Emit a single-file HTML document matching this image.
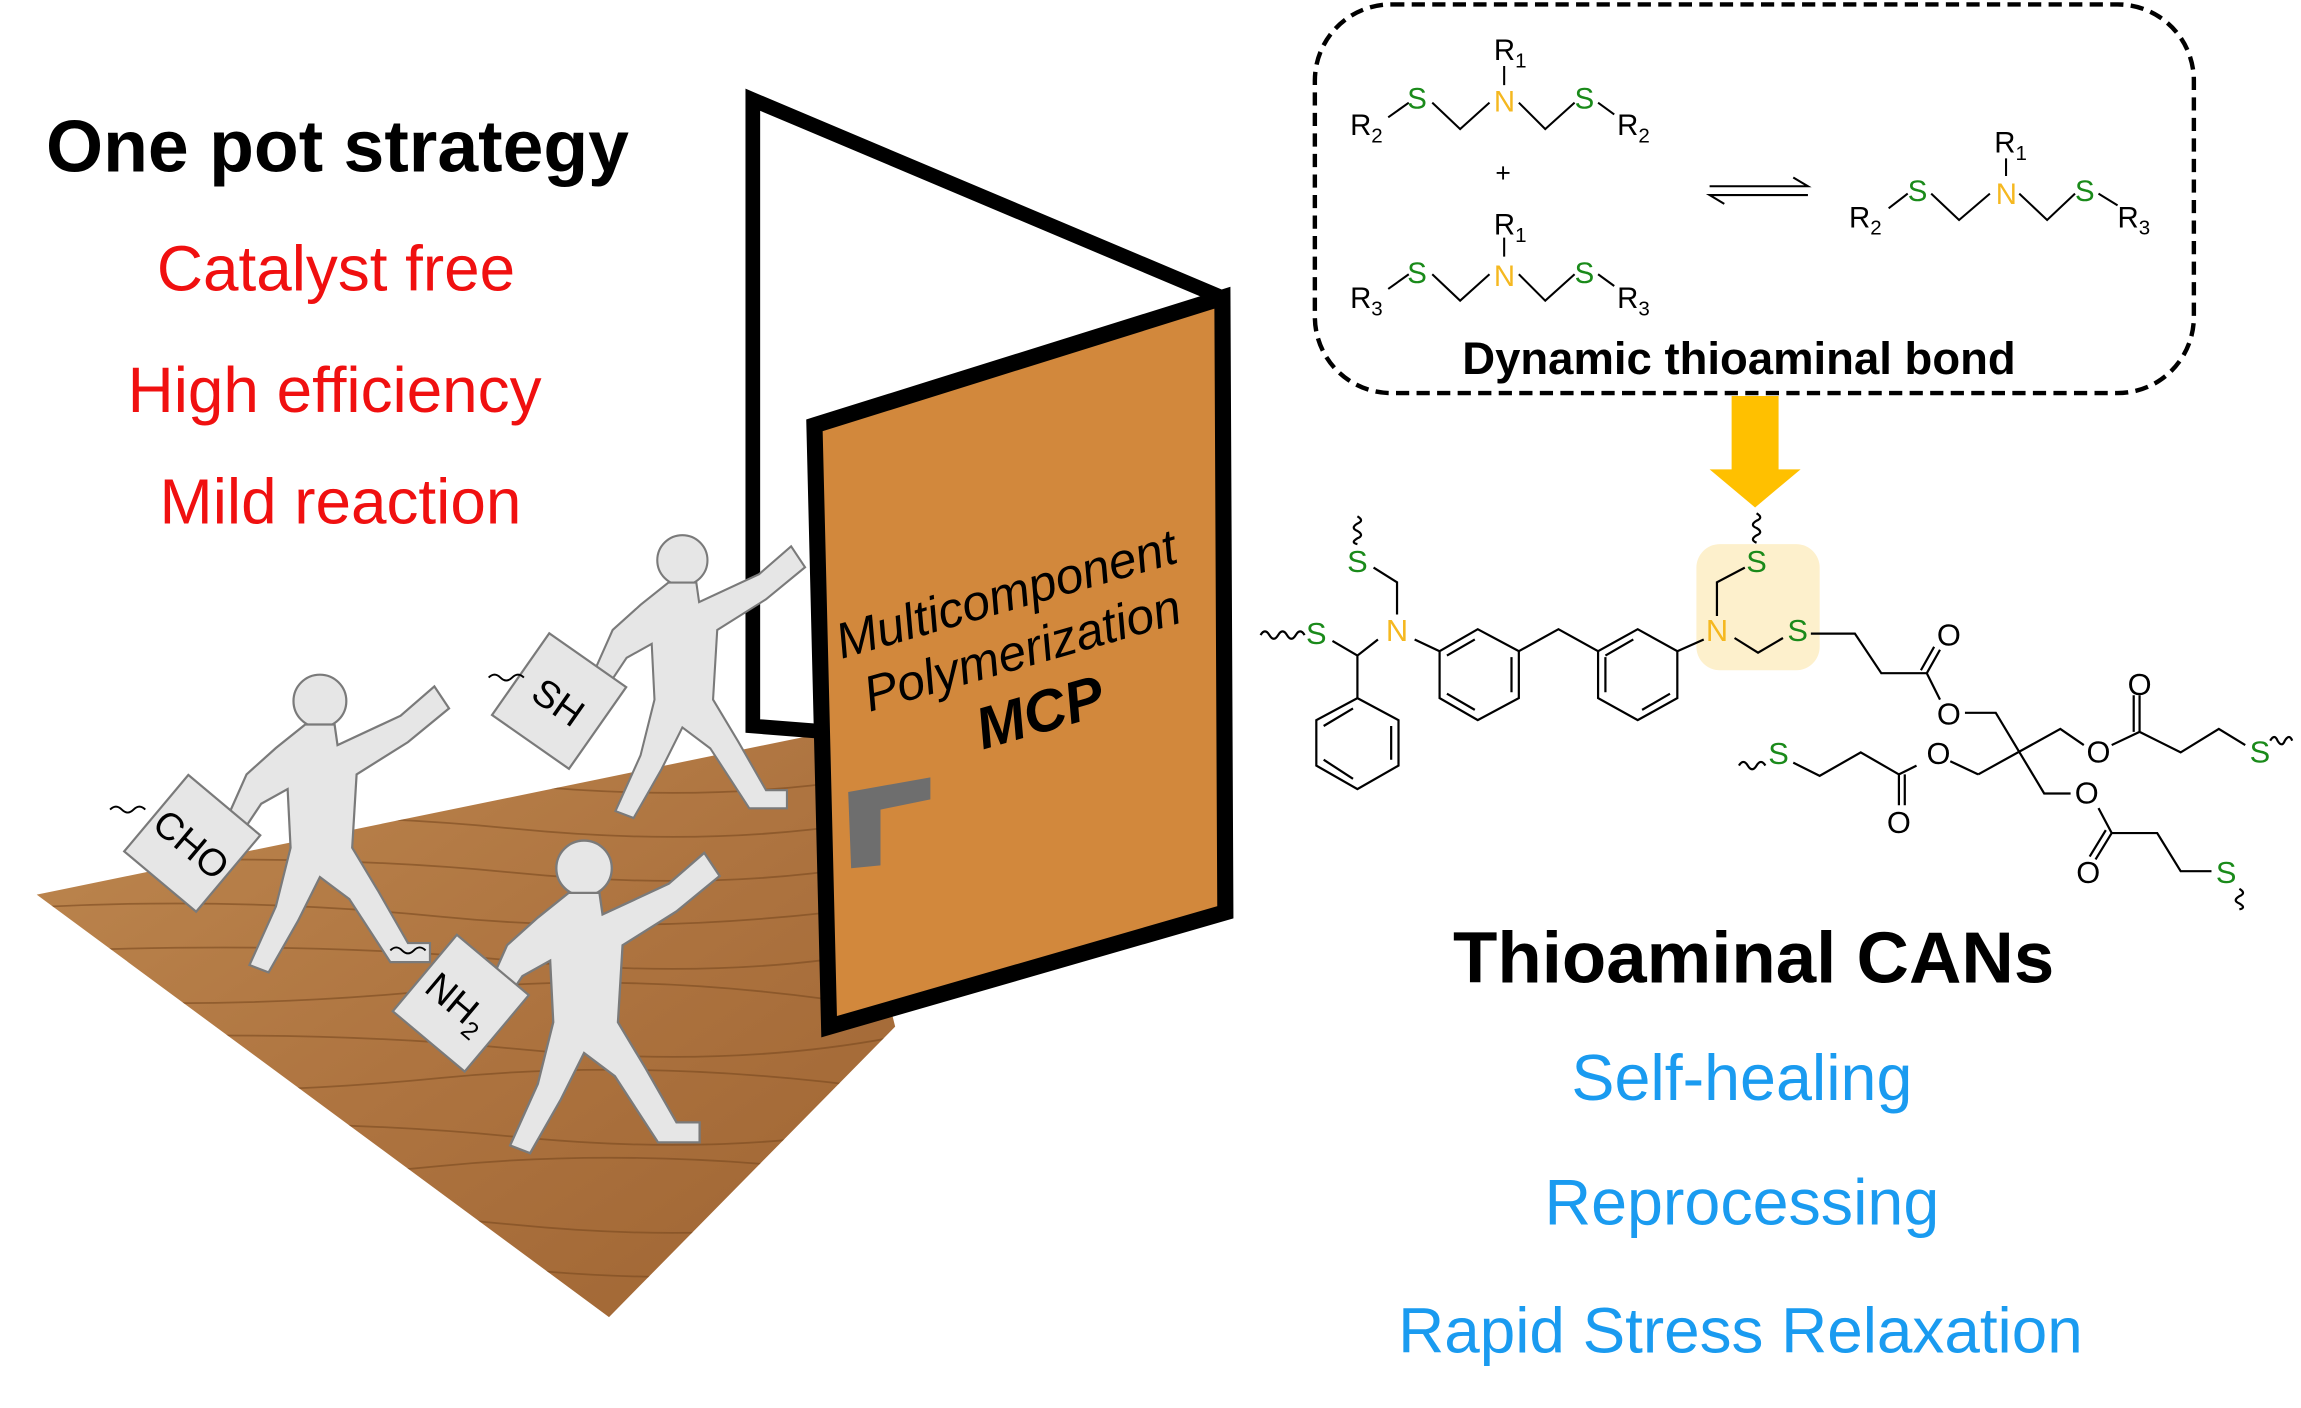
<!DOCTYPE html>
<html><head><meta charset="utf-8"><style>
html,body{margin:0;padding:0;background:#fff;}
svg{display:block;}
text{font-family:"Liberation Sans",sans-serif;}
</style></head><body>
<svg width="2301" height="1408" viewBox="0 0 1568 960" preserveAspectRatio="none" xmlns="http://www.w3.org/2000/svg">
<defs>
<linearGradient id="wood" x1="0" y1="0" x2="1" y2="1">
<stop offset="0" stop-color="#BE8850"/><stop offset="0.5" stop-color="#AE7440"/><stop offset="1" stop-color="#9E6432"/>
</linearGradient>
<clipPath id="floorclip"><polygon points="25,610 560,500 610,700 415,898"/></clipPath>
<g id="fig">
<circle cx="0" cy="0" r="18" fill="#E6E6E6" stroke="#7a7a7a" stroke-width="1.5"/>
<path d="M -10 16 L 10 16 L 12 30 L 55 10 L 78 -10 L 88 5 L 60 28 L 25 50 L 22 100 L 40 130 L 60 165 L 75 165 L 75 178 L 48 178 L 20 135 L 0 120 L -15 150 L -35 185 L -48 180 L -30 140 L -20 100 L -22 60 L -40 70 L -60 100 L -70 95 L -50 50 L -30 32 Z" fill="#E6E6E6" stroke="#7a7a7a" stroke-width="1.5"/>
</g>
</defs>

<text x="230" y="117" font-size="50" font-weight="bold" text-anchor="middle" fill="#000">One pot strategy</text>
<text x="229" y="198" font-size="43.5" text-anchor="middle" fill="#F01010">Catalyst free</text>
<text x="228" y="281" font-size="43.5" text-anchor="middle" fill="#F01010">High efficiency</text>
<text x="232" y="357" font-size="43.5" text-anchor="middle" fill="#F01010">Mild reaction</text>

<polygon points="25,610 560,500 610,700 415,898" fill="url(#wood)"/>
<g clip-path="url(#floorclip)" stroke="#7a4a20" stroke-width="1.2" fill="none" opacity="0.6">
<path d="M0 620 Q150 610 300 625 T620 615"/><path d="M0 650 Q200 640 350 655 T620 645"/>
<path d="M0 680 Q150 690 300 675 T620 690"/><path d="M0 710 Q200 700 350 715 T620 705"/>
<path d="M0 740 Q150 750 300 735 T620 745"/><path d="M0 770 Q200 760 350 775 T620 765"/>
<path d="M0 800 Q150 810 300 795 T620 805"/><path d="M0 830 Q200 820 350 835 T620 825"/>
<path d="M0 590 Q200 580 350 595 T620 585"/><path d="M0 560 Q200 550 350 565 T620 555"/>
<path d="M0 530 Q200 520 350 535 T620 525"/><path d="M0 860 Q200 850 350 865 T620 855"/>
</g>

<polygon points="513,68 833,203 833,520 513,495" fill="#fff" stroke="#000" stroke-width="10" stroke-linejoin="miter"/>
<polygon points="555,290 833,203 835,622 565,700" fill="#D2883C" stroke="#000" stroke-width="11" stroke-linejoin="miter"/>
<polygon points="578,540 634,530 634,545 600,552 600,590 580,592" fill="#6e6e6e"/>
<g transform="translate(697,445) rotate(-16)" text-anchor="middle" fill="#000">
<text x="0" y="-30" font-size="34" font-family="DejaVu Sans, sans-serif" font-style="oblique">Multicomponent</text>
<text x="0" y="10" font-size="34" font-family="DejaVu Sans, sans-serif" font-style="oblique">Polymerization</text>
<text x="0" y="56" font-size="40" font-weight="bold" font-style="oblique" font-family="DejaVu Sans, sans-serif">MCP</text>
</g>

<use href="#fig" x="218" y="478"/>
<use href="#fig" transform="translate(465,382) scale(0.95)"/>
<use href="#fig" transform="translate(398,592) scale(1.05)"/>

<g transform="translate(131,575) rotate(40)">
<rect x="-32" y="-34" width="64" height="68" fill="#E6E6E6" stroke="#7a7a7a" stroke-width="1.5"/>
<text x="0" y="10" font-size="26" text-anchor="middle">CHO</text></g>
<path d="M75 552 q4 -4 8 0 q4 4 8 0 q4 -4 8 0" stroke="#000" fill="none" stroke-width="1.3"/>
<g transform="translate(381,478) rotate(35)">
<rect x="-32" y="-34" width="64" height="68" fill="#E6E6E6" stroke="#7a7a7a" stroke-width="1.5"/>
<text x="0" y="10" font-size="26" text-anchor="middle">SH</text></g>
<path d="M333 462 q4 -4 8 0 q4 4 8 0 q4 -4 8 0" stroke="#000" fill="none" stroke-width="1.3"/>
<g transform="translate(314,684) rotate(40)">
<rect x="-32" y="-34" width="64" height="68" fill="#E6E6E6" stroke="#7a7a7a" stroke-width="1.5"/>
<text x="-2" y="10" font-size="26" text-anchor="middle">NH<tspan font-size="17" dy="6">2</tspan></text></g>
<path d="M266 648 q4 -4 8 0 q4 4 8 0 q4 -4 8 0" stroke="#000" fill="none" stroke-width="1.3"/>

<rect x="896" y="3" width="599" height="265" rx="52" fill="none" stroke="#000" stroke-width="3" stroke-dasharray="9,5"/>
<g font-size="20" fill="#000">
<g stroke="#000" fill="none" stroke-width="1.4">
<path d="M946 80 L960 70 M976 70 L995 88 L1015 70 M1035 70 L1053 88 L1073 70 M1089 70 L1100 78 M1025 45 L1025 58"/>
<path d="M946 197 L960 187 M976 187 L995 205 L1015 187 M1035 187 L1053 205 L1073 187 M1089 187 L1100 195 M1025 162 L1025 175"/>
<path d="M1287 142 L1300 132 M1316 132 L1335 150 L1356 132 M1376 132 L1395 150 L1414 132 M1430 132 L1443 140 M1367 108 L1367 120"/>
<path d="M1165 127 L1232 127 L1222 121 M1232 133 L1165 133 L1175 139"/>
</g>
<text x="1018" y="41">R<tspan font-size="14" dy="5">1</tspan></text>
<text x="959" y="74" fill="#1a8a1a">S</text><text x="1018" y="76" fill="#F5B820">N</text><text x="1073" y="74" fill="#1a8a1a">S</text>
<text x="920" y="92">R<tspan font-size="14" dy="5">2</tspan></text><text x="1102" y="92">R<tspan font-size="14" dy="5">2</tspan></text>
<text x="1019" y="124" font-size="18">+</text>
<text x="1018" y="160">R<tspan font-size="14" dy="5">1</tspan></text>
<text x="959" y="193" fill="#1a8a1a">S</text><text x="1018" y="195" fill="#F5B820">N</text><text x="1073" y="193" fill="#1a8a1a">S</text>
<text x="920" y="210">R<tspan font-size="14" dy="5">3</tspan></text><text x="1102" y="210">R<tspan font-size="14" dy="5">3</tspan></text>
<text x="1359" y="104">R<tspan font-size="14" dy="5">1</tspan></text>
<text x="1300" y="137" fill="#1a8a1a">S</text><text x="1360" y="139" fill="#F5B820">N</text><text x="1414" y="137" fill="#1a8a1a">S</text>
<text x="1260" y="155">R<tspan font-size="14" dy="5">2</tspan></text><text x="1443" y="155">R<tspan font-size="14" dy="5">3</tspan></text>
</g>
<text x="1185" y="255" font-size="31" font-weight="bold" text-anchor="middle">Dynamic thioaminal bond</text>

<polygon points="1180,270 1212,270 1212,320 1227,320 1196,346 1165,320 1180,320" fill="#FFC000"/>

<rect x="1156" y="371" width="84" height="86" rx="16" fill="#FDF0CC"/>
<g stroke="#000" fill="none" stroke-width="1.5">
<path d="M859 433 q3 -5 6 0 q3 5 6 0 q3 -5 6 0 q3 5 6 0 q3 -5 6 0"/>
<path d="M925 352 q5 3 0 5 q-5 3 0 5 q5 3 0 5 q-5 3 0 4"/>
<path d="M1197 350 q5 3 0 5 q-5 3 0 5 q5 3 0 5 q-5 3 0 5"/>
<path d="M908 437 L925 447 L939 436 M925 447 L925 476 M952 419 L952 397 L936 387 M964 436 L981 444"/>
<path d="M925 476 L953 491 L953 522 L925 538 L897 522 L897 491 Z M948 495 L948 518 M902 495 L922 483 M902 518 L922 531"/>
<path d="M981 444 L1007 429 L1035 444 L1035 476 L1007 491 L981 476 Z M986 447 L1005 436 M1030 448 L1030 472 M986 473 L1005 484"/>
<path d="M1035 444 L1062 429 L1089 444"/>
<path d="M1089 444 L1116 429 L1143 444 L1143 476 L1116 491 L1089 476 Z M1094 447 L1113 436 M1094 448 L1094 472 M1119 484 L1138 473"/>
<path d="M1143 444 L1161 436 M1170 420 L1170 397 L1189 387 M1182 435 L1198 445 L1215 435"/>
<path d="M1234 432 L1264 432 L1282 459 L1313 459 L1322 477 M1313 459 L1322 443 M1309 457 L1318 441"/>
<path d="M1339 486 L1360 486 L1393 541 L1411 541"/>
<path d="M1430 551 L1439 568 L1470 568 L1486 594 L1507 594 M1439 568 L1428 586 M1435 566 L1424 584"/>
<path d="M1348 528 L1404 497 L1420 508 M1439 508 L1458 499 L1486 513 L1512 497 L1530 508 M1458 499 L1458 474 M1454 499 L1454 474"/>
<path d="M1348 528 L1329 519 M1306 522 L1294 528 L1268 513 L1240 529 L1222 520 M1294 528 L1294 549 M1298 528 L1298 549"/>
<path d="M1203 522 q-3 -5 -6 0 q-3 5 -6 0 q-3 -5 -6 0 M1547 505 q3 -5 5 0 q3 5 5 0 q3 -5 5 0 M1526 606 q5 3 0 5 q-5 3 0 5 q5 3 0 4"/>
</g>
<g font-size="21" text-anchor="middle">
<text x="897" y="439" fill="#1a8a1a">S</text>
<text x="925" y="390" fill="#1a8a1a">S</text>
<text x="952" y="437" fill="#F5B820">N</text>
<text x="1170" y="437" fill="#F5B820">N</text>
<text x="1197" y="390" fill="#1a8a1a">S</text>
<text x="1225" y="437" fill="#1a8a1a">S</text>
<text x="1328" y="440">O</text>
<text x="1328" y="494">O</text>
<text x="1321" y="521">O</text>
<text x="1430" y="520">O</text>
<text x="1458" y="474">O</text>
<text x="1422" y="548">O</text>
<text x="1294" y="568">O</text>
<text x="1423" y="602">O</text>
<text x="1212" y="521" fill="#1a8a1a">S</text>
<text x="1540" y="520" fill="#1a8a1a">S</text>
<text x="1517" y="602" fill="#1a8a1a">S</text>
</g>

<text x="1195" y="670" font-size="49.5" font-weight="bold" text-anchor="middle">Thioaminal CANs</text>
<text x="1187" y="750" font-size="44" text-anchor="middle" fill="#1A9BF0">Self-healing</text>
<text x="1187" y="835" font-size="44" text-anchor="middle" fill="#1A9BF0">Reprocessing</text>
<text x="1186" y="922" font-size="43.5" text-anchor="middle" fill="#1A9BF0">Rapid Stress Relaxation</text>
</svg>
</body></html>
